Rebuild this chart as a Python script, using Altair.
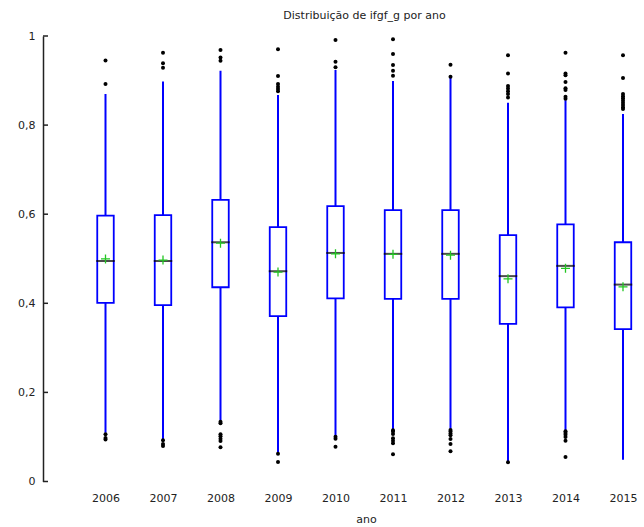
import altair as alt
import pandas as pd

# Anos e estatísticas dos boxplots de ifgf_g
anos = [2006, 2007, 2008, 2009, 2010, 2011, 2012, 2013, 2014, 2015]
q1 = [0.401, 0.396, 0.436, 0.371, 0.411, 0.410, 0.410, 0.354, 0.391, 0.342]
mediana = [0.495, 0.495, 0.537, 0.472, 0.513, 0.511, 0.511, 0.461, 0.484, 0.442]
media = [0.4995, 0.497, 0.535, 0.470, 0.511, 0.510, 0.508, 0.455, 0.4785, 0.437]
q3 = [0.597, 0.598, 0.632, 0.571, 0.618, 0.609, 0.609, 0.553, 0.577, 0.537]
bigode_inf = [0.1095, 0.0947, 0.138, 0.063, 0.1029, 0.117, 0.1185, 0.0438, 0.115, 0.049]
bigode_sup = [0.870, 0.898, 0.922, 0.8676, 0.9237, 0.899, 0.9057, 0.850, 0.856, 0.825]

# Valores atípicos por ano
atipicos = [
    [0.945, 0.892, 0.106, 0.0975, 0.094],
    [0.9625, 0.939, 0.929, 0.0924, 0.084, 0.0797],
    [0.9686, 0.952, 0.9446, 0.134, 0.1306, 0.106, 0.1015, 0.096, 0.091, 0.0767],
    [0.970, 0.910, 0.892, 0.886, 0.881, 0.876, 0.0624, 0.0438],
    [0.991, 0.942, 0.930, 0.1006, 0.096, 0.078],
    [0.9925, 0.9596, 0.935, 0.922, 0.911, 0.115, 0.112, 0.1066, 0.097, 0.0916, 0.0857, 0.061],
    [0.9356, 0.9087, 0.1156, 0.112, 0.108, 0.104, 0.0954, 0.084, 0.0677],
    [0.9566, 0.916, 0.888, 0.882, 0.876, 0.870, 0.862, 0.043],
    [0.9625, 0.916, 0.912, 0.8967, 0.8825, 0.879, 0.8638, 0.859,
     0.1127, 0.109, 0.105, 0.100, 0.0916, 0.055],
    [0.9566, 0.9057, 0.870, 0.865, 0.860, 0.855, 0.850, 0.845, 0.840, 0.836],
]

marcas_y = [0, 0.2, 0.4, 0.6, 0.8, 1]
titulo = "Distribuição de ifgf_g por ano"

caixas = pd.DataFrame({
    "ano": anos, "q1": q1, "mediana": mediana, "media": media,
    "q3": q3, "inf": bigode_inf, "sup": bigode_sup,
})
pontos = pd.DataFrame(
    [(a, v) for a, vals in zip(anos, atipicos) for v in vals],
    columns=["ano", "valor"],
)
marcas = pd.DataFrame({"v": marcas_y})

AZUL = "#0000ff"
VERDE = "#22c622"
TEXTO = "#222222"

eixo_y = alt.Axis(
    values=marcas_y, grid=False, ticks=False, domain=True,
    domainColor="#222222", domainWidth=1.5,
    labelExpr="datum.value == 0 ? '0' : datum.value == 1 ? '1' : replace(format(datum.value, '.1f'), '.', ',')",
    labelPadding=8, labelFontSize=11, labelColor=TEXTO, title=None,
)
escala_y = alt.Scale(domain=[0, 1], nice=False, zero=False)

eixo_x = alt.Axis(
    values=anos, format="d", grid=False, ticks=False, domain=False,
    labelPadding=11, labelFontSize=11, labelColor=TEXTO,
    title="ano", titleFontSize=11, titleFontWeight="normal", titleColor=TEXTO,
    titleX=323, titleY=37.5, titleBaseline="middle",
)
escala_x = alt.Scale(domain=[2005, 2015], nice=False, zero=False)
x = alt.X("ano:Q", scale=escala_x, axis=eixo_x)

bigodes = alt.Chart(caixas).mark_rule(color=AZUL, strokeWidth=2).encode(
    x=x,
    y=alt.Y("inf:Q", scale=escala_y, axis=eixo_y),
    y2="sup:Q",
)

caixa = alt.Chart(caixas).mark_bar(
    size=16.5, fill="white", stroke=AZUL, strokeWidth=1.8
).encode(
    x=x,
    y=alt.Y("q1:Q", scale=escala_y, axis=eixo_y),
    y2="q3:Q",
)

linha_mediana = alt.Chart(caixas).mark_tick(
    orient="horizontal", size=18.5, thickness=2, color="black"
).encode(
    x=x,
    y=alt.Y("mediana:Q", scale=escala_y, axis=eixo_y),
)

ponto_media = alt.Chart(caixas).mark_point(
    shape="M-1,0L1,0M0,-1L0,1", size=81, stroke=VERDE, strokeWidth=1.3,
    filled=False, opacity=1,
).encode(
    x=x,
    y=alt.Y("media:Q", scale=escala_y, axis=eixo_y),
)

pontos_atipicos = alt.Chart(pontos).mark_circle(
    size=16, color="black", opacity=1
).encode(
    x=x,
    y=alt.Y("valor:Q", scale=escala_y, axis=eixo_y),
)

# Marcas do eixo y voltadas para dentro da área do gráfico
tracos_y = alt.Chart(marcas).mark_rule(color="#222222", strokeWidth=1.5).encode(
    y=alt.Y("v:Q", scale=escala_y, axis=eixo_y),
    x=alt.value(0),
    x2=alt.value(5),
)

# Título centrado sobre a área de plotagem
texto_titulo = alt.Chart(pd.DataFrame({"t": [titulo]})).mark_text(
    fontSize=11, color=TEXTO, align="center", baseline="middle",
).encode(
    text="t:N",
    x=alt.value(321.5),
    y=alt.value(-20),
)

chart = alt.layer(
    bigodes, caixa, linha_mediana, ponto_media, pontos_atipicos, tracos_y,
    texto_titulo,
).properties(
    width=585,
    height=445.5,
    autosize=alt.AutoSizeParams(type="none"),
    padding={"left": 43, "top": 36, "right": 16, "bottom": 45.5},
).configure(
    font="DejaVu Sans",
).configure_view(
    stroke=None,
)

chart.save("out.html", embed_options={"renderer": "svg", "actions": False})
